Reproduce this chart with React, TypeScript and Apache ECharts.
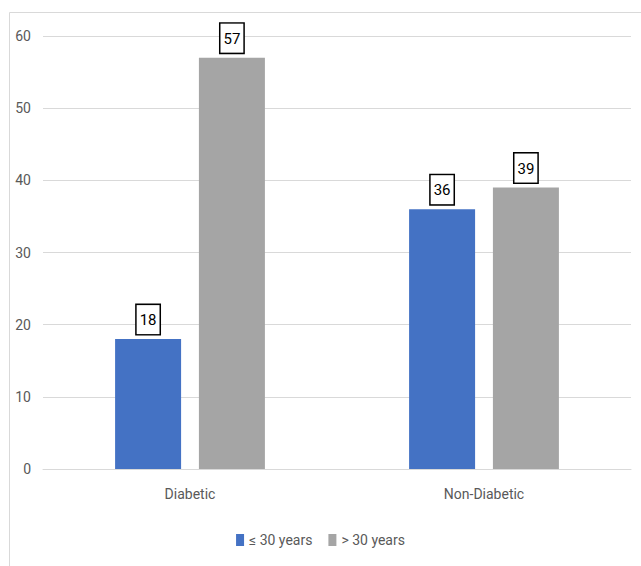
import React, { useEffect, useRef } from "react";
import * as echarts from "echarts";

const categories = ["Diabetic", "Non-Diabetic"];
const seriesNames = ["≤ 30 years", "> 30 years"];
const youngValues = [18, 36];
const olderValues = [57, 39];

const FONT = "Roboto, sans-serif";

export default function App() {
  const ref = useRef<HTMLDivElement>(null);
  useEffect(() => {
    if (!ref.current) return;
    const chart = echarts.init(ref.current, null, { renderer: "svg" });
    const label = {
      show: true,
      position: "top",
      distance: 5,
      color: "#000",
      fontSize: 15,
      fontWeight: "normal",
      fontFamily: FONT,
      lineHeight: 18,
      backgroundColor: "#fff",
      borderColor: "#000",
      borderWidth: 1.5,
      padding: [6, 3, 5, 3],
    };
    chart.setOption({
      animation: false,
      backgroundColor: "#fff",
      graphic: [
        {
          type: "rect",
          shape: { x: 9.5, y: 12.5, width: 700, height: 700 },
          style: { fill: "none", stroke: "#d9d9d9", lineWidth: 1 },
          silent: true,
          z: -10,
        },
      ],
      grid: { left: 43, right: 10, top: 36, bottom: 97, containLabel: false },
      legend: {
        data: seriesNames,
        bottom: 14,
        left: "center",
        itemWidth: 8,
        itemHeight: 12,
        itemGap: 16,
        icon: "rect",
        textStyle: { color: "#595959", fontSize: 14, fontFamily: FONT },
      },
      xAxis: {
        type: "category",
        data: categories,
        axisLine: { lineStyle: { color: "#d9d9d9", width: 1 } },
        axisTick: { show: false },
        axisLabel: { color: "#595959", fontSize: 14, fontFamily: FONT, margin: 18 },
      },
      yAxis: {
        type: "value",
        min: 0,
        max: 60,
        interval: 10,
        splitLine: { lineStyle: { color: "#d9d9d9", width: 1 } },
        axisLine: { show: false },
        axisTick: { show: false },
        axisLabel: { color: "#595959", fontSize: 14, fontFamily: FONT, margin: 12 },
      },
      series: [
        {
          name: seriesNames[0],
          type: "bar",
          data: youngValues,
          barWidth: 66,
          barGap: "27%",
          itemStyle: { color: "#4472C4" },
          label,
        },
        {
          name: seriesNames[1],
          type: "bar",
          data: olderValues,
          barWidth: 66,
          itemStyle: { color: "#A5A5A5" },
          label,
        },
      ],
    });
    return () => chart.dispose();
  }, []);
  return (
    <div
      ref={ref}
      style={{ position: "fixed", left: 0, top: 0, width: 641, height: 566, background: "#fff" }}
    />
  );
}
